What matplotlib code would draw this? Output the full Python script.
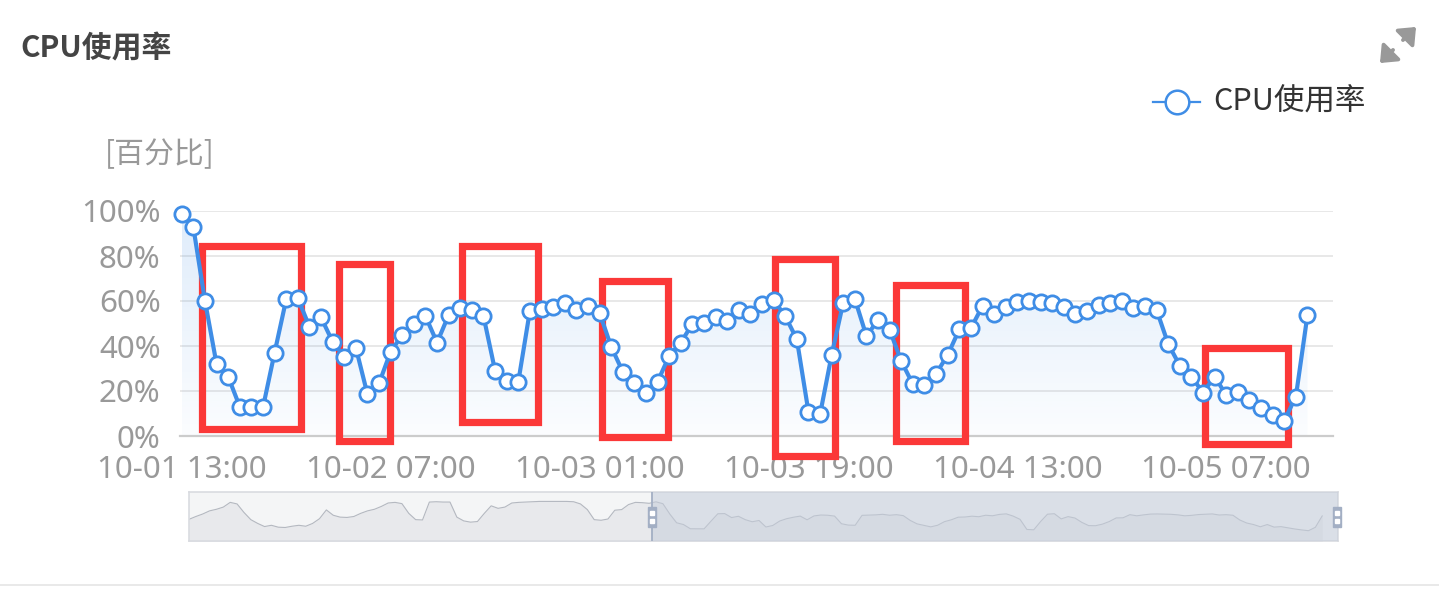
import matplotlib
matplotlib.use("Agg")
import matplotlib.pyplot as plt
import matplotlib.transforms as mtransforms
import numpy as np
import pandas as pd
from matplotlib.lines import Line2D
from matplotlib.patches import Rectangle, FancyArrowPatch

plt.rcParams['font.family'] = ['Noto Sans CJK SC', 'DejaVu Sans']

# full series (hourly), first 68 points only visible in the zoom slider
cpu_before = [43, 52, 60, 70, 75, 82, 97, 92, 65, 42, 30, 20, 24, 18, 17, 21, 24,
              21, 30, 45, 73, 56, 50, 49, 52, 62, 70, 75, 84, 95, 97, 93, 62, 42,
              41, 98, 99, 98, 98, 50, 38, 34, 36, 62, 86, 78, 82, 95, 97, 98, 99,
              100, 100, 100, 100, 100, 99, 92, 74, 42, 40, 44, 72, 74, 90, 97, 96, 94]
cpu_window = [98.7, 92.8, 60.1, 32.0, 26.4, 13.0, 13.0, 12.7, 37.0, 60.7, 61.3, 48.6,
              52.7, 41.9, 35.3, 39.3, 18.6, 23.4, 37.5, 44.9, 49.6, 53.3, 41.5, 53.8,
              56.7, 56.0, 53.3, 29.0, 24.6, 24.1, 55.7, 56.3, 57.2, 59.0, 56.0, 57.8,
              54.8, 39.7, 28.6, 23.7, 19.0, 24.1, 35.6, 41.5, 49.8, 50.4, 53.0, 51.3,
              56.0, 54.3, 58.7, 60.4, 53.3, 43.0, 10.8, 9.6, 36.0, 59.3, 60.9, 44.4,
              51.6, 47.1, 33.3, 23.0, 22.7, 27.7, 36.0, 47.4, 47.9, 57.8, 54.2, 57.2,
              59.7, 60.1, 59.7, 59.0, 57.2, 54.2, 55.7, 58.2, 59.3, 60.2, 56.7, 57.8,
              56.0, 40.9, 31.3, 26.4, 19.3, 26.4, 18.2, 19.7, 16.0, 12.3, 9.3, 6.8,
              17.5, 53.8]
cpu_all = np.array(cpu_before + cpu_window)
times = pd.date_range('2023-09-28 17:00', periods=len(cpu_all), freq='h')
y_ticks = [0, 20, 40, 60, 80, 100]

# highlighted dips (x in window index, y in percent)
boxes = [(1.72, 10.25, 3.0, 84.6), (13.55, 17.94, -2.4, 76.6), (24.12, 30.71, 6.2, 84.6),
         (36.18, 41.91, -0.3, 69.0), (51.16, 56.33, -8.9, 78.5), (61.58, 67.53, -2.2, 67.3),
         (88.2, 95.31, -3.6, 39.0)]

BLUE = '#3f8de6'
RED = '#fb3838'
GREY_TXT = '#999999'

W, H = 1439, 595
fig = plt.figure(figsize=(W / 100, H / 100), dpi=100)


def fx(px):
    return px / W


def fy(py):
    return 1 - py / H


start = len(cpu_before)
vis = cpu_all[start:]
xv = np.arange(len(vis))

ax = fig.add_axes([fx(180), fy(436), fx(1333) - fx(180), (436 - 211) / H])
ax.plot(xv, vis, color=BLUE, lw=3.0, marker='o', ms=11, mfc='white', mec=BLUE,
        mew=2.0, zorder=5, clip_on=False, solid_joinstyle='round')

# soft gradient under the line
poly = ax.fill_between(xv, vis, 0, color='none', lw=0)
grad = np.linspace(0.02, 0.17, 200).reshape(-1, 1)
cols = np.zeros((200, 1, 4))
cols[..., :3] = matplotlib.colors.to_rgb(BLUE)
cols[..., 3] = grad
img = ax.imshow(cols, extent=[xv[0], xv[-1], 0, 100], aspect='auto', origin='lower', zorder=1)
img.set_clip_path(poly.get_paths()[0], transform=ax.transData)

for x0, x1, y0, y1 in boxes:
    ax.add_patch(Rectangle((x0, y0), x1 - x0, y1 - y0, fill=False, ec=RED, lw=5.2,
                           clip_on=False, zorder=4, joinstyle='miter'))

ax.set_xlim(-0.15, 99.2)
ax.set_ylim(0, 100)
ax.set_yticks(y_ticks)
ax.set_yticklabels([f'{v}%' for v in y_ticks], family='Noto Sans')
ax.set_xticks(xv[::18])
ax.set_xticklabels([t.strftime('%m-%d %H:%M') for t in times[start::18]], family='Noto Sans')
ax.tick_params(axis='both', length=0, labelsize=22.5, colors=GREY_TXT)
ax.tick_params(axis='y', pad=14)
ax.tick_params(axis='x', pad=14)
ax.yaxis.grid(True, color='#e6e6e6', lw=1.3)
ax.set_axisbelow(True)
for s in ['top', 'left', 'right']:
    ax.spines[s].set_visible(False)
ax.spines['bottom'].set_color('#cccccc')
ax.spines['bottom'].set_linewidth(1.6)
ax.set_facecolor('none')

# data zoom slider
sax = fig.add_axes([fx(189), fy(541), fx(1338) - fx(189), 49 / H])
xa = np.arange(len(cpu_all))
sax.set_facecolor('#f4f5f6')
sax.fill_between(xa, cpu_all, -30, color='#e8e9ec', lw=0, zorder=1)
sax.plot(xa, cpu_all, color='#b4b8c0', lw=0.8, zorder=2)
win0, win1 = 67.4, 167.3
sax.axvspan(win0, win1, color='#c6cedb', alpha=0.55, lw=0, zorder=3)
sax.axvline(win0, color='#a3afc4', lw=1.3, zorder=4)
sax.set_xlim(0, 167.3)
sax.set_ylim(-26, 130)
sax.set_xticks([])
sax.set_yticks([])
for s in sax.spines.values():
    s.set_color('#d9dbe0')
    s.set_linewidth(1.2)
trans = mtransforms.blended_transform_factory(sax.transData, sax.transAxes)
for hx in [win0, win1 - 0.2]:
    sax.add_patch(Rectangle((hx - 0.6, 0.29), 1.2, 0.41, transform=trans, color='#a3afc4',
                            zorder=5, clip_on=False))
    sax.plot([hx, hx], [0.41, 0.58], transform=trans, ls='none', marker='s', ms=2.3,
             color='white', zorder=6, clip_on=False)

# texts and decorations
fig.text(fx(20), fy(48), 'CPU使用率', fontsize=21.5, fontweight='bold', color='#444444',
         va='center', ha='left')
fig.text(fx(105), fy(155), '[百分比]', fontsize=21.5, color=GREY_TXT, va='center', ha='left')
fig.add_artist(Line2D([fx(1153), fx(1200)], [fy(102)] * 2, color=BLUE, lw=1.6))
fig.add_artist(Line2D([fx(1177)], [fy(102)], marker='o', ms=17, mfc='white', mec=BLUE, mew=1.8))
fig.text(fx(1213), fy(102), 'CPU使用率', fontsize=22, color='#333333', va='center', ha='left')

for x0, y0, x1, y1 in [(1401, 42, 1418, 25), (1395, 48, 1378, 65)]:
    fig.add_artist(FancyArrowPatch((fx(x0), fy(y0)), (fx(x1), fy(y1)), transform=fig.transFigure,
                                   arrowstyle='-|>,head_length=0.6,head_width=0.5',
                                   mutation_scale=15, color='#999999', lw=2.8))

fig.add_artist(Line2D([0, 1], [fy(585)] * 2, color='#e5e5e5', lw=1.2))

fig.savefig('out.png', dpi=100, facecolor='white')
